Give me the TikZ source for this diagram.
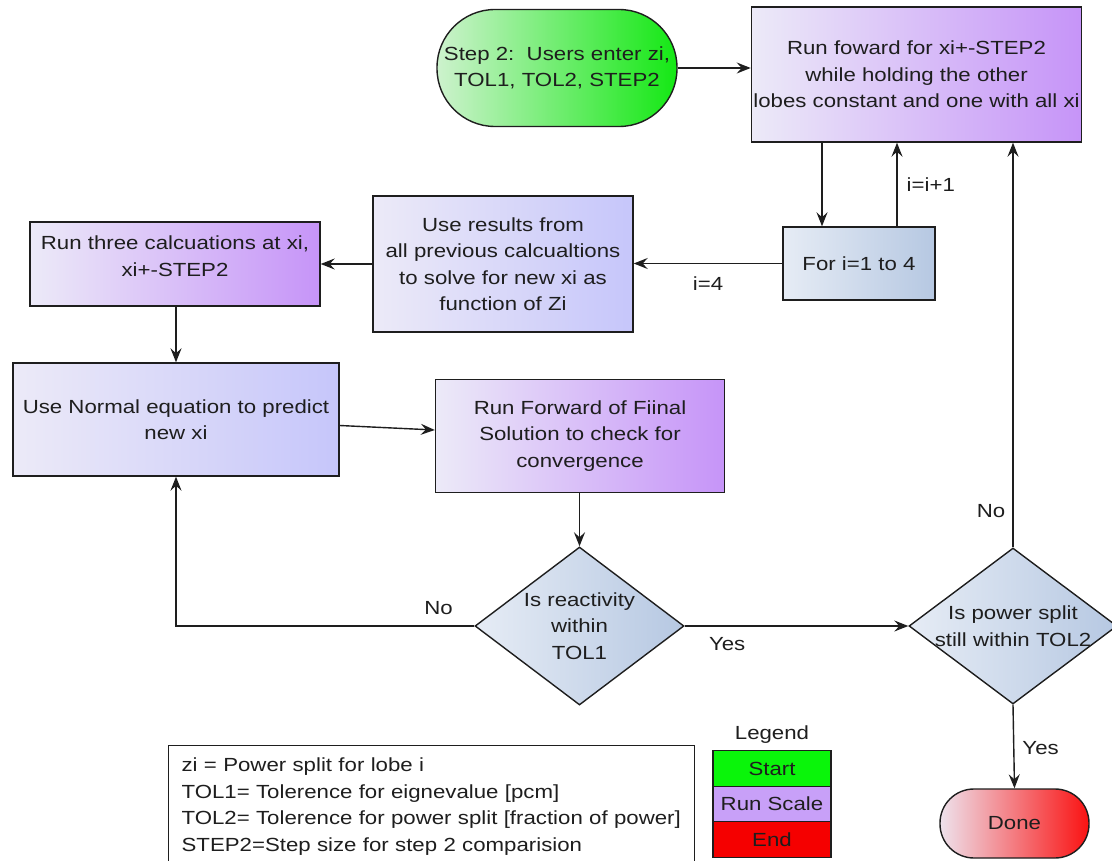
\documentclass[tikz,border=0pt]{standalone}
\usepackage{fontspec}
\setmainfont{Liberation Sans}[FakeStretch=1.17]
\usetikzlibrary{arrows.meta,shapes.geometric,calc}

\definecolor{paleL}{RGB}{236,234,248}
\definecolor{violetR}{RGB}{198,148,248}
\definecolor{lavR}{RGB}{198,198,250}
\definecolor{steelL}{RGB}{230,236,245}
\definecolor{steelR}{RGB}{182,200,226}
\definecolor{startL}{RGB}{205,242,205}
\definecolor{startR}{RGB}{20,232,20}
\definecolor{doneL}{RGB}{238,226,236}
\definecolor{doneR}{RGB}{250,18,18}
\definecolor{legGreen}{RGB}{10,245,10}
\definecolor{legViolet}{RGB}{200,160,248}
\definecolor{legRed}{RGB}{245,0,0}
\definecolor{ink}{RGB}{30,30,30}

\tikzset{
  base/.style={draw=ink, line width=1.4pt, text=ink, align=center, inner sep=2pt,
    font=\fontsize{19}{26.5}\selectfont},
  runbox/.style={base, rectangle, left color=paleL, right color=violetR},
  calcbox/.style={base, rectangle, left color=paleL, right color=lavR},
  loopbox/.style={base, rectangle, left color=steelL, right color=steelR},
  decision/.style={draw=ink, line width=1.4pt, diamond, inner sep=0pt,
    left color=steelL, right color=steelR},
  terminal/.style={base, rectangle},
  arr/.style={draw=ink, line width=1.4pt, -{Stealth[length=14pt,width=11pt,inset=5pt]}},
  lbl/.style={text=ink, font=\fontsize{19}{24}\selectfont, inner sep=0pt},
  legcell/.style={draw=ink, line width=1.2pt, minimum width=118pt, minimum height=35.5pt,
    inner sep=0pt, text=ink, font=\fontsize{19}{24}\selectfont}
}

\begin{document}
\begin{tikzpicture}[x=1pt,y=-1pt]
\useasboundingbox (0,0) rectangle (1112,861);
\fill[white] (0,0) rectangle (1112,861);

% process nodes
\node[terminal, left color=startL, right color=startR, minimum width=240pt, minimum height=117pt,
  rounded corners=58pt] (start) at (557,68) {Step 2:\ \ Users enter zi,\\TOL1, TOL2, STEP2};
\node[runbox, minimum width=329pt, minimum height=135pt]
  (top) at (916.5,74.5) {Run foward for xi+-STEP2\\while holding the other\\lobes constant and one with all xi};
\node[loopbox, minimum width=152pt, minimum height=73pt]
  (for) at (859,263.5) {For i=1 to 4};
\node[calcbox, minimum width=260pt, minimum height=136pt]
  (res) at (503,264) {Use results from\\all previous calcualtions\\to solve for new xi as\\function of Zi};
\node[runbox, minimum width=290pt, minimum height=84pt, text depth=16pt]
  (three) at (175,264) {Run three calcuations at xi,\\xi+-STEP2};
\node[calcbox, minimum width=326pt, minimum height=113pt]
  (norm) at (176,419.5) {Use Normal equation to predict\\new xi};
\node[runbox, minimum width=289pt, minimum height=113pt]
  (fwd) at (580,436) {Run Forward of Fiinal\\Solution to check for\\convergence};

% decisions
\node[decision, minimum width=209pt, minimum height=158pt] (d1) at (579.5,626) {};
\node[base, draw=none, inner sep=0pt] (d1text) at (d1) {Is reactivity\\within\\TOL1};
\node[decision, minimum width=208pt, minimum height=156pt] (d2) at (1013,626) {};
\node[base, draw=none, inner sep=0pt] (d2text) at (d2) {Is power split\\still within TOL2};

\node[terminal, left color=doneL, right color=doneR, minimum width=149pt, minimum height=69pt,
  rounded corners=34pt] (done) at (1014.5,823.5) {Done};

% connectors
\draw[arr] (start.east) -- (start.east -| top.west);
\draw[arr] ([xshift=-37pt]for.north |- top.south) -- ([xshift=-37pt]for.north);
\draw[arr] ([xshift=38pt]for.north) -- ([xshift=38pt]for.north |- top.south)
  node[lbl, pos=0.5, anchor=west, xshift=9pt] {i=i+1};
\draw[arr] (for.west) -- (for.west -| res.east)
  node[lbl, pos=0.5, below=13pt] {i=4};
\draw[arr] (res.west) -- (res.west -| three.east);
\draw[arr] (three.south -| norm.north) -- (norm.north);
\draw[arr] ([yshift=-6pt]norm.east) -- ([yshift=6pt]fwd.west);
\draw[arr] (fwd.south -| d1.north) -- (d1.north);
\draw[arr] (d1.west) -| (norm.south)
  node[lbl, pos=0.06, above=11pt] {No};
\draw[arr] (d1.east) -- (d2.west)
  node[lbl, pos=0.19, below=11pt] {Yes};
\draw[arr] (d2.north) -- (d2.north |- top.south)
  node[lbl, pos=0.09, left=7pt] {No};
\draw[arr] (d2.south) -- (done.north)
  node[lbl, pos=0.52, right=8pt] {Yes};

% legend
\node[lbl] (legtitle) at (772,735) {Legend};
\node[legcell, fill=legGreen] (lstart) at (772,768.5) {Start};
\node[legcell, fill=legViolet] (lrun) at (772,804) {Run Scale};
\node[legcell, fill=legRed] (lend) at (772,839.5) {End};

% notes
\node[draw=ink, line width=1.2pt, fill=white, text=ink, align=left, text width=500pt,
  inner xsep=13pt, inner ysep=6pt, font=\fontsize{19}{26.5}\selectfont,
  minimum height=122pt, anchor=north west]
  (notes) at (168,745) {zi = Power split for lobe i\\
  TOL1= Tolerence for eignevalue [pcm]\\
  TOL2= Tolerence for power split [fraction of power]\\
  STEP2=Step size for step 2 comparision};
\end{tikzpicture}
\end{document}
